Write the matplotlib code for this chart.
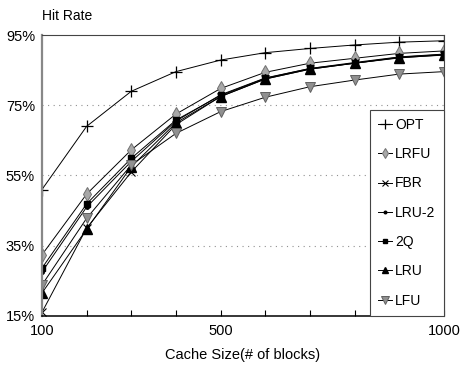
import matplotlib
matplotlib.use("Agg")
import matplotlib.pyplot as plt

# cache size (# of blocks)
cache_sizes = [100, 200, 300, 400, 500, 600, 700, 800, 900, 1000]

# hit rate (%) per policy
opt = [51.0, 69.0, 79.0, 84.6, 87.9, 90.0, 91.2, 92.2, 93.0, 93.4]
lrfu = [32.4, 49.7, 62.3, 72.5, 79.8, 84.4, 87.0, 88.4, 89.8, 90.5]
fbr = [16.0, 40.0, 56.0, 69.5, 77.5, 82.5, 85.3, 87.0, 88.6, 89.3]
lru2 = [27.5, 46.0, 59.0, 70.5, 78.0, 82.8, 85.5, 87.2, 88.8, 89.6]
twoq = [28.6, 46.9, 59.9, 70.8, 77.8, 82.7, 85.5, 87.0, 88.7, 89.5]
lru = [21.5, 39.7, 57.5, 70.0, 77.5, 82.5, 85.3, 87.0, 88.5, 89.4]
lfu = [23.8, 42.8, 58.0, 67.0, 73.2, 77.3, 80.3, 82.2, 83.9, 84.6]

y_ticks = [15, 35, 55, 75, 95]
x_labels = {100: "100", 500: "500", 1000: "1000"}


def main():
    plt.rcParams["font.family"] = ["Liberation Sans", "DejaVu Sans"]
    plt.rcParams["font.size"] = 9.5

    fig = plt.figure(figsize = (4.61, 3.66), dpi = 100)
    ax = fig.add_axes([0.091, 0.137, 0.872, 0.767])

    lw = 0.7
    ax.plot(cache_sizes, opt, color = "black", lw = lw, marker = "+", ms = 9, mew = 0.9, label = "OPT")
    ax.plot(cache_sizes, lrfu, color = "black", lw = lw, marker = "d", ms = 7, mfc = "#a8a8a8",
            mec = "#707070", mew = 0.7, label = "LRFU")
    ax.plot(cache_sizes, fbr, color = "black", lw = lw, marker = "x", ms = 6, mew = 0.8, label = "FBR")
    ax.plot(cache_sizes, lru2, color = "black", lw = lw, marker = "o", ms = 2.5, label = "LRU-2")
    ax.plot(cache_sizes, twoq, color = "black", lw = lw, marker = "s", ms = 4.5, label = "2Q")
    ax.plot(cache_sizes, lru, color = "black", lw = lw, marker = "^", ms = 6.5, label = "LRU")
    ax.plot(cache_sizes, lfu, color = "black", lw = lw, marker = "v", ms = 7, mfc = "#909090",
            mec = "#606060", mew = 0.7, label = "LFU")

    ax.set_xlim(100, 1000)
    ax.set_ylim(15, 95)

    ax.set_xticks(cache_sizes)
    ax.set_xticklabels([x_labels.get(c, "") for c in cache_sizes])
    ax.tick_params(axis = "x", direction = "in", length = 4, width = 0.8, pad = 6, labelsize = 10.5)
    ax.set_yticks(y_ticks)
    ax.set_yticklabels([f"{t}%" for t in y_ticks])
    ax.tick_params(axis = "y", length = 0, pad = 5, labelsize = 10.5)

    for t in y_ticks[1:-1]:
        ax.axhline(t, color = "#909090", lw = 0.8, ls = (0, (1, 4)), zorder = 0)

    ax.spines["left"].set_color("#888888")
    ax.spines["left"].set_linewidth(1.6)
    ax.spines["bottom"].set_color("black")
    ax.spines["bottom"].set_linewidth(1.1)
    ax.spines["top"].set_color("#444444")
    ax.spines["top"].set_linewidth(0.8)
    ax.spines["right"].set_color("#444444")
    ax.spines["right"].set_linewidth(0.8)

    ax.set_xlabel("Cache Size(# of blocks)", fontsize = 10.5, labelpad = 7)
    fig.text(0.091, 0.956, "Hit Rate", fontsize = 10, ha = "left", va = "center")

    leg = ax.legend(loc = "lower right", bbox_to_anchor = (1.0, 0.0), borderaxespad = 0,
                    fontsize = 10, handlelength = 1.0, handletextpad = 0.25, markerscale = 0.75,
                    labelspacing = 1.1, borderpad = 0.6, fancybox = False, framealpha = 1)
    leg.get_frame().set_edgecolor("#444444")
    leg.get_frame().set_linewidth(0.8)

    fig.savefig("out.png", dpi = 100)


if __name__ == "__main__":
    main()
